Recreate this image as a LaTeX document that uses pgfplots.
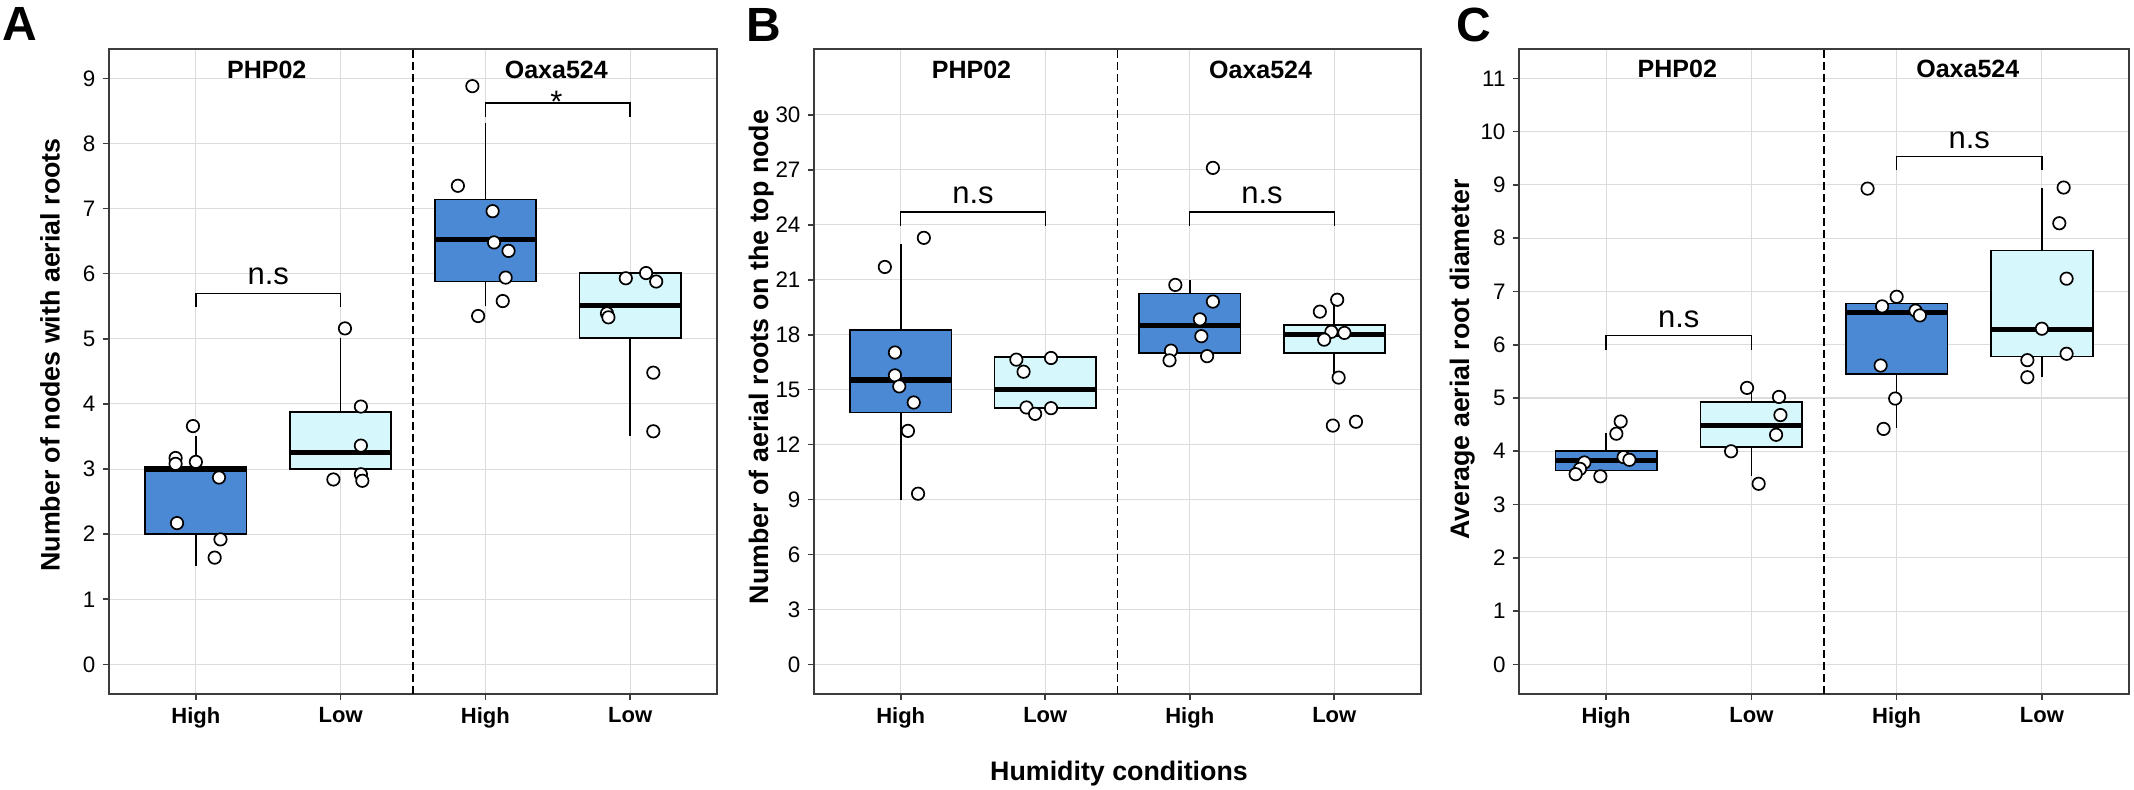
\documentclass[border=0pt]{standalone}
\usepackage{fontspec}
\setmainfont{Liberation Sans}
\usepackage{pgfplots}
\pgfplotsset{compat=1.18}
\usepgfplotslibrary{statistics}

\definecolor{hiblue}{RGB}{76,137,212}
\definecolor{locyan}{RGB}{214,248,252}
\definecolor{gridgray}{RGB}{220,220,220}
\definecolor{framegray}{RGB}{60,60,60}

\tikzset{
  strip/.style={font=\bfseries\fontsize{12.5}{14}\selectfont, anchor=base},
  sig/.style={font=\fontsize{15.5}{18}\selectfont},
}

\pgfplotsset{
  panel/.style={
    scale only axis, width=304pt, height=322.35pt, anchor=south west,
    xmin=0.4, xmax=4.6,
    xtick={1,2,3,4}, xticklabels={High,Low,High,Low},
    xtick pos=bottom, ytick pos=left,
    tick align=outside, major tick length=3.25pt,
    tick style={framegray, line width=0.8pt},
    axis line style={framegray, line width=0.9pt},
    grid=major, major grid style={gridgray, line width=0.55pt},
    /pgf/number format/assume math mode=true,
    yticklabel style={font=\fontsize{11.2}{13}\selectfont},
    xticklabel style={font=\bfseries\fontsize{11}{12}\selectfont},
    boxplot/draw direction=y,
    boxplot/every median/.style={line width=2.6pt},
  },
  hibox/.style={fill=hiblue, draw=black, line width=0.8pt},
  lobox/.style={fill=locyan, draw=black, line width=0.8pt},
  pts/.style={only marks, mark=*, mark size=3.1pt,
    mark options={fill=white, draw=black, line width=0.85pt}},
  br/.style={black, line width=0.7pt, sharp plot, no marks},
  sep/.style={black, line width=0.7pt, dash pattern=on 4pt off 2pt, no marks},
}

\begin{document}
\begin{tikzpicture}
\path[use as bounding box] (0,0) rectangle (1067pt,-394.5pt);

% ---------------- A ----------------
\begin{axis}[panel, at={(54.5pt,-346.85pt)},
  ymin=-0.45, ymax=9.45, ytick={0,1,...,9}]
  \addplot[hibox, boxplot prepared={draw position=1, box extend=0.7, whisker extend=0,
    lower whisker=1.51, lower quartile=2.0, median=3.0, upper quartile=3.04, upper whisker=3.51}]
    coordinates {};
  \addplot[lobox, boxplot prepared={draw position=2, box extend=0.7, whisker extend=0,
    lower whisker=3.0, lower quartile=3.0, median=3.26, upper quartile=3.88, upper whisker=5.01}]
    coordinates {};
  \addplot[hibox, boxplot prepared={draw position=3, box extend=0.7, whisker extend=0,
    lower whisker=5.5, lower quartile=5.88, median=6.52, upper quartile=7.14, upper whisker=8.31}]
    coordinates {};
  \addplot[lobox, boxplot prepared={draw position=4, box extend=0.7, whisker extend=0,
    lower whisker=3.51, lower quartile=5.01, median=5.51, upper quartile=6.01, upper whisker=6.01}]
    coordinates {};
  \addplot[pts] coordinates {
    (0.98,3.66) (0.86,3.17) (0.86,3.08) (1.00,3.11) (1.16,2.87) (0.87,2.17) (1.17,1.92) (1.13,1.64)
    (2.03,5.16) (2.14,3.96) (2.14,3.36) (2.14,2.92) (1.95,2.84) (2.15,2.82)
    (2.91,8.88) (2.81,7.35) (3.05,6.96) (3.06,6.48) (3.16,6.35) (3.14,5.94) (3.12,5.58) (2.95,5.35)
    (3.97,5.93) (4.11,6.01) (4.18,5.88) (3.84,5.39) (3.85,5.33) (4.16,4.48) (4.16,3.58)};
  \addplot[sep] coordinates {(2.5,-0.45) (2.5,9.45)};
  \addplot[br] coordinates {(1,5.49) (1,5.70) (2,5.70) (2,5.49)};
  \addplot[br] coordinates {(3,8.41) (3,8.62) (4,8.62) (4,8.41)};
  \node[sig] at (axis cs:1.5,5.96) {n.s};
  \node[sig, anchor=base] at (axis cs:3.49,8.48) {*};
  \node[strip] at (axis cs:1.49,9.0) {PHP02};
  \node[strip] at (axis cs:3.49,9.0) {Oaxa524};
\end{axis}

% ---------------- B ----------------
\begin{axis}[panel, at={(407pt,-346.85pt)}, width=303.5pt,
  ymin=-1.6, ymax=33.6, ytick={0,3,...,30}]
  \addplot[hibox, boxplot prepared={draw position=1, box extend=0.7, whisker extend=0,
    lower whisker=9.0, lower quartile=13.75, median=15.53, upper quartile=18.25, upper whisker=22.96}]
    coordinates {};
  \addplot[lobox, boxplot prepared={draw position=2, box extend=0.7, whisker extend=0,
    lower whisker=14.01, lower quartile=14.01, median=15.0, upper quartile=16.77, upper whisker=16.77}]
    coordinates {};
  \addplot[hibox, boxplot prepared={draw position=3, box extend=0.7, whisker extend=0,
    lower whisker=16.99, lower quartile=16.99, median=18.51, upper quartile=20.26, upper whisker=20.98}]
    coordinates {};
  \addplot[lobox, boxplot prepared={draw position=4, box extend=0.7, whisker extend=0,
    lower whisker=15.43, lower quartile=16.99, median=18.0, upper quartile=18.52, upper whisker=19.71}]
    coordinates {};
  \addplot[pts] coordinates {
    (1.16,23.29) (0.89,21.70) (0.96,17.03) (0.96,15.78) (0.99,15.18) (1.09,14.30) (1.05,12.75) (1.12,9.32)
    (1.80,16.64) (2.04,16.73) (1.85,15.98) (1.87,14.03) (2.04,13.99) (1.93,13.68)
    (3.16,27.11) (2.90,20.72) (3.16,19.81) (3.07,18.84) (3.08,17.92) (2.87,17.13) (2.86,16.60) (3.12,16.83)
    (4.02,19.91) (3.90,19.26) (3.98,18.16) (4.07,18.10) (3.93,17.73) (4.03,15.66) (3.99,13.04) (4.15,13.25)};
  \addplot[sep] coordinates {(2.5,-1.6) (2.5,33.6)};
  \addplot[br] coordinates {(1,23.96) (1,24.70) (2,24.70) (2,23.96)};
  \addplot[br] coordinates {(3,23.96) (3,24.70) (4,24.70) (4,23.96)};
  \node[sig] at (axis cs:1.5,25.59) {n.s};
  \node[sig] at (axis cs:3.5,25.59) {n.s};
  \node[strip] at (axis cs:1.49,32.0) {PHP02};
  \node[strip] at (axis cs:3.49,32.0) {Oaxa524};
\end{axis}

% ---------------- C ----------------
\begin{axis}[panel, at={(759.5pt,-346.85pt)}, width=305pt,
  ymin=-0.55, ymax=11.55, ytick={0,1,...,11}]
  \addplot[hibox, boxplot prepared={draw position=1, box extend=0.7, whisker extend=0,
    lower whisker=3.64, lower quartile=3.64, median=3.83, upper quartile=4.01, upper whisker=4.34}]
    coordinates {};
  \addplot[lobox, boxplot prepared={draw position=2, box extend=0.7, whisker extend=0,
    lower whisker=3.54, lower quartile=4.08, median=4.49, upper quartile=4.92, upper whisker=5.11}]
    coordinates {};
  \addplot[hibox, boxplot prepared={draw position=3, box extend=0.7, whisker extend=0,
    lower whisker=4.43, lower quartile=5.45, median=6.60, upper quartile=6.77, upper whisker=6.77}]
    coordinates {};
  \addplot[lobox, boxplot prepared={draw position=4, box extend=0.7, whisker extend=0,
    lower whisker=5.40, lower quartile=5.78, median=6.29, upper quartile=7.77, upper whisker=8.95}]
    coordinates {};
  \addplot[pts] coordinates {
    (1.10,4.56) (1.07,4.33) (1.12,3.89) (1.16,3.84) (0.85,3.79) (0.82,3.67) (0.79,3.57) (0.96,3.53)
    (1.97,5.19) (2.19,5.02) (2.20,4.68) (2.17,4.31) (1.86,4.00) (2.05,3.39)
    (2.80,8.93) (3.00,6.90) (2.90,6.72) (3.13,6.64) (3.16,6.55) (2.89,5.61) (2.99,4.99) (2.91,4.42)
    (4.15,8.95) (4.12,8.28) (4.17,7.24) (4.00,6.30) (4.17,5.83) (3.90,5.71) (3.90,5.39)};
  \addplot[sep] coordinates {(2.5,-0.55) (2.5,11.55)};
  \addplot[br] coordinates {(1,5.90) (1,6.17) (2,6.17) (2,5.90)};
  \addplot[br] coordinates {(3,9.28) (3,9.53) (4,9.53) (4,9.28)};
  \node[sig] at (axis cs:1.5,6.47) {n.s};
  \node[sig] at (axis cs:3.5,9.84) {n.s};
  \node[strip] at (axis cs:1.49,11.02) {PHP02};
  \node[strip] at (axis cs:3.49,11.02) {Oaxa524};
\end{axis}

% panel letters and titles
\node[font=\bfseries\fontsize{24}{28}\selectfont] at (10pt,-12pt) {A};
\node[font=\bfseries\fontsize{24}{28}\selectfont] at (382pt,-12.25pt) {B};
\node[font=\bfseries\fontsize{24}{28}\selectfont] at (737pt,-12.25pt) {C};
\node[font=\bfseries\fontsize{13.4}{16}\selectfont, rotate=90, anchor=base]
  at (29.75pt,-177.5pt) {Number of nodes with aerial roots};
\node[font=\bfseries\fontsize{13.4}{16}\selectfont, rotate=90, anchor=base]
  at (384pt,-178.5pt) {Number of aerial roots on the top node};
\node[font=\bfseries\fontsize{13.4}{16}\selectfont, rotate=90, anchor=base]
  at (734.5pt,-179.75pt) {Average aerial root diameter};
\node[font=\bfseries\fontsize{13.4}{16}\selectfont, anchor=base]
  at (559.5pt,-390pt) {Humidity conditions};
\end{tikzpicture}
\end{document}
